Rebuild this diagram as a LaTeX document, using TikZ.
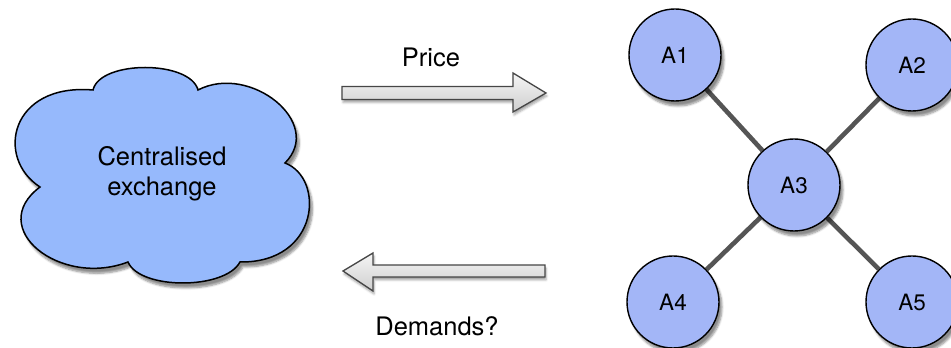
\documentclass[tikz,border=0pt]{standalone}
\usepackage{fontspec}
\setmainfont{TeX Gyre Heros}
\usetikzlibrary{shadows,shadows.blur,backgrounds}
\definecolor{cloudblue}{RGB}{150,185,252}
\definecolor{agentblue}{RGB}{163,182,247}
\definecolor{linkgray}{RGB}{85,85,85}
\definecolor{arrowedge}{RGB}{70,70,70}
\tikzset{
  softshadow/.style={blur shadow={shadow xshift=3pt, shadow yshift=-5pt,
    shadow blur steps=6, shadow opacity=45}},
  agent/.style={circle, draw=black, line width=1.4pt, fill=agentblue,
    minimum size=92pt, inner sep=0pt, font=\fontsize{22.5}{26}\selectfont, softshadow},
  link/.style={draw=linkgray, line width=4.6pt},
  bigarrow/.style={draw=arrowedge, line width=1.3pt, line join=miter,
    top color=gray!8, bottom color=gray!38,
    blur shadow={shadow xshift=1pt, shadow yshift=-3pt, shadow blur steps=4, shadow opacity=35}},
  label/.style={font=\fontsize{25.5}{30}\selectfont, align=center}
}
\begin{document}
\begin{tikzpicture}[x=1pt,y=1pt]
\useasboundingbox (0,0) rectangle (951,348);
\clip (0,0) rectangle (951,348);

% exchange cloud
\path[draw=black, line width=1.5pt, fill=cloudblue, softshadow]
  (40,161) .. controls (-5,190) and (10,265) .. (93,258)
  .. controls (100,288) and (190,288) .. (198,258)
  .. controls (250,285) and (325,225) .. (285,185)
  .. controls (325,170) and (320,85) .. (240,86)
  .. controls (225,58) and (140,58) .. (128,86)
  .. controls (60,60) and (-15,120) .. (40,161) -- cycle;
\node[label] (cx) at (162,174) {Centralised\\exchange};

% price arrow (to the right)
\path[bigarrow] (342,248.5) -- (513,248.5) -- (513,236) -- (546,255)
  -- (513,275) -- (513,261.5) -- (342,261.5) -- cycle;
\node[label] (price) at (431,291) {Price};

% demand arrow (to the left)
\path[bigarrow] (545,71) -- (373,71) -- (373,57) -- (343,77)
  -- (373,95) -- (373,83) -- (545,83) -- cycle;
\node[label] (demands) at (437,22) {Demands?};

% agent network
\node[agent] (A3) at (794,163) {A3};
\node[agent] (A1) at (675,293) {A1};
\node[agent] (A2) at (912,283) {A2};
\node[agent] (A4) at (673,46) {A4};
\node[agent] (A5) at (912,46) {A5};
\begin{pgfonlayer}{background}
  \foreach \a in {A1,A2,A4,A5} \draw[link] (A3) -- (\a);
\end{pgfonlayer}
\end{tikzpicture}
\end{document}
